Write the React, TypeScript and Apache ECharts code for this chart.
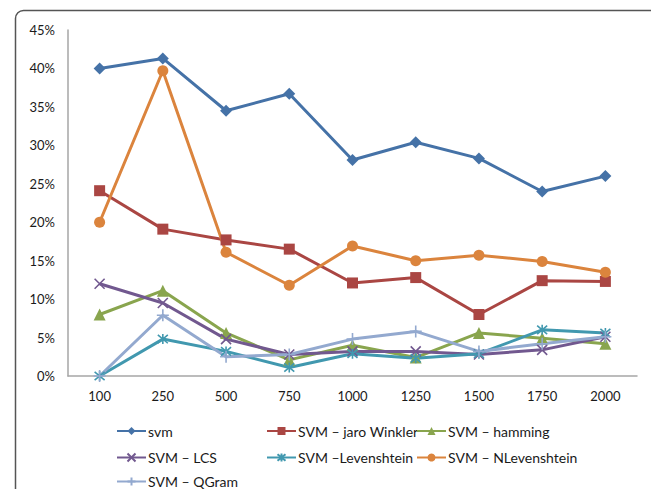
import React, { useEffect, useRef } from "react";
import * as echarts from "echarts";

const categories = ["100", "250", "500", "750", "1000", "1250", "1500", "1750", "2000"];
const svm = [40.0, 41.3, 34.5, 36.7, 28.1, 30.4, 28.3, 24.0, 26.0];
const jaroWinkler = [24.1, 19.1, 17.7, 16.5, 12.1, 12.8, 8.0, 12.4, 12.3];
const hamming = [8.0, 11.1, 5.6, 2.1, 4.0, 2.4, 5.6, 4.9, 4.2];
const lcs = [12.0, 9.5, 4.8, 2.8, 3.2, 3.2, 2.8, 3.4, 5.1];
const levenshtein = [0.0, 4.8, 3.2, 1.1, 2.9, 2.3, 2.9, 6.0, 5.6];
const nLevenshtein = [20.0, 39.7, 16.1, 11.8, 16.9, 15.0, 15.7, 14.9, 13.5];
const qGram = [0.0, 7.9, 2.5, 2.8, 4.8, 5.8, 3.2, 4.2, 5.1];
const yTicks = [0, 5, 10, 15, 20, 25, 30, 35, 40, 45];

const FONT = "Lato";

export default function App() {
  const ref = useRef<HTMLDivElement>(null);
  useEffect(() => {
    if (!ref.current) return;
    const chart = echarts.init(ref.current, null, { renderer: "svg" });
    const mk = (
      name: string,
      data: number[],
      color: string,
      symbol: string,
      symbolSize: number,
      stroke = false
    ) => ({
      name,
      type: "line",
      data,
      symbol,
      symbolSize,
      showAllSymbol: true,
      lineStyle: { color, width: 3 },
      itemStyle: stroke
        ? { color: "rgba(0,0,0,0)", borderColor: color, borderWidth: 1.6 }
        : { color, borderColor: color, borderWidth: 0 },
      emphasis: { disabled: true },
    });
    const cross = "path://M0,0L10,10M10,0L0,10";
    const star = "path://M0,0L10,10M10,0L0,10M5,-1L5,11";
    const plus = "path://M5,0L5,10M0,5L10,5";
    const leg = (name: string, left: number, cy: number) => ({
      orient: "horizontal",
      left,
      top: cy - 5,
      itemWidth: 29,
      itemHeight: 10,
      padding: 0,
      selectedMode: false,
      data: [name],
      textStyle: { fontFamily: FONT, fontSize: 14, color: "#1a1a1a", padding: [0, 0, 0, -3] },
    });
    chart.setOption({
      animation: false,
      graphic: [
        {
          type: "rect",
          shape: { x: 15.5, y: 10.5, width: 720, height: 600, r: 8 },
          style: { fill: "none", stroke: "#555", lineWidth: 1.5 },
          silent: true,
        },
      ],
      grid: { left: 68, right: 14, top: 30, bottom: 113 },
      xAxis: {
        type: "category",
        data: categories,
        boundaryGap: true,
        axisLine: { lineStyle: { color: "#A6A6A6", width: 1.5 } },
        axisTick: { show: false },
        axisLabel: { fontFamily: FONT, fontSize: 13, color: "#1a1a1a", margin: 13 },
      },
      yAxis: {
        type: "value",
        min: 0,
        max: 45,
        interval: 5,
        axisLine: { show: true, lineStyle: { color: "#A6A6A6", width: 1.5 } },
        axisTick: { show: false },
        splitLine: { show: false },
        axisLabel: {
          fontFamily: FONT,
          fontSize: 13,
          color: "#1a1a1a",
          margin: 13,
          formatter: (v: number) => (yTicks.includes(v) ? v + "%" : ""),
        },
      },
      legend: [
        leg("svm", 116, 429),
        leg("SVM – LCS", 116, 455.5),
        leg("SVM – QGram", 116, 479.5),
        leg("SVM – jaro Winkler", 266, 429),
        leg("SVM –Levenshtein", 266, 455.5),
        leg("SVM – hamming", 416, 429),
        leg("SVM – NLevenshtein", 416, 455.5),
      ],
      series: [
        mk("svm", svm, "#4572A7", "diamond", 12),
        mk("SVM – jaro Winkler", jaroWinkler, "#AA4643", "rect", 11),
        mk("SVM – hamming", hamming, "#89A54E", "triangle", 12),
        mk("SVM – LCS", lcs, "#71588F", cross, 10, true),
        mk("SVM –Levenshtein", levenshtein, "#4198AF", star, 10, true),
        mk("SVM – NLevenshtein", nLevenshtein, "#DB843D", "circle", 11),
        mk("SVM – QGram", qGram, "#93A9CF", plus, 12, true),
      ],
    });
    return () => chart.dispose();
  }, []);
  return (
    <div
      ref={ref}
      style={{ position: "fixed", left: 0, top: 0, width: 651, height: 489, background: "#fff" }}
    />
  );
}
